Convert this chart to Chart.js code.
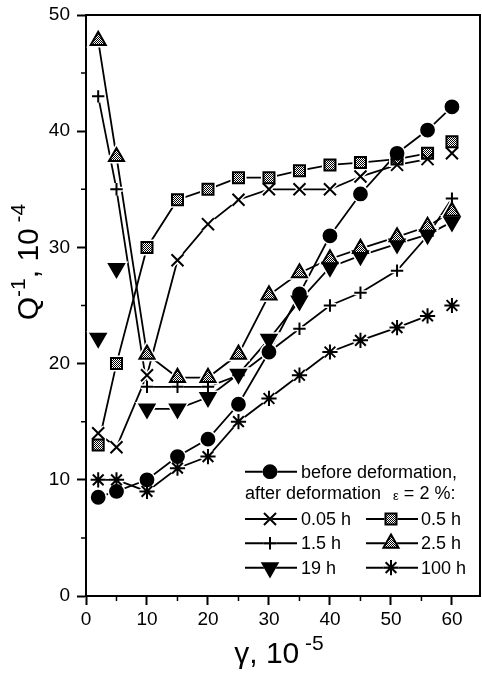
<!DOCTYPE html>
<html><head><meta charset="utf-8">
<script src="https://cdn.jsdelivr.net/npm/chart.js@4.4.0/dist/chart.umd.min.js"></script>
<style>html,body{margin:0;padding:0;background:#fff;overflow:hidden}#wrap{width:482px;height:673px;position:relative}</style>
</head><body><div id="wrap"><canvas id="c" width="482" height="673"></canvas></div>
<script>
// ---- data ----
const gamma   = [2, 5, 10, 15, 20, 25, 30, 35, 40, 45, 51, 56, 60];
const before  = [8.5, 9, 10, 12, 13.5, 16.5, 21, 26, 31, 34.6, 38.1, 40.1, 42.1];
const h005    = [14, 12.8, 19, 28.9, 32, 34.1, 35, 35, 35, 36.1, 37.1, 37.6, 38.1];
const h05     = [13, 20, 30, 34.1, 35, 36, 36, 36.6, 37.1, 37.3, 37.6, 38.1, 39.1];
const h15     = [43, 35, 18, 18, 18, 19, 21, 23, 25, 26.1, 28, 31, 34.2];
const h25     = [47.8, 37.8, 20.8, 18.8, 18.8, 20.8, 25.9, 27.8, 29, 29.9, 30.9, 31.8, 33.1];
const h19     = [22.2, 28.2, 16.1, 16.1, 17.1, 19.1, 22.1, 25.4, 28.3, 29.3, 30.3, 31.1, 32.2];
const h100    = [10, 10, 9, 11, 12, 15, 17, 19, 21, 22, 23.1, 24.1, 25];
const xTickLabels = [0, 10, 20, 30, 40, 50, 60];
const yTickLabels = [0, 10, 20, 30, 40, 50];
const seriesNames = ['before deformation,', '0.05 h', '0.5 h', '1.5 h', '2.5 h', '19 h', '100 h'];
// segments left undrawn in the reference (index of the segment's first point)
const hiddenSegments = [[], [11], [11], [], [], [0, 1], [11]];

const FONT = "'Liberation Sans', Arial, sans-serif";
const canvas = document.getElementById('c');
const ctx0 = canvas.getContext('2d');

function makePattern() {
  const c = document.createElement('canvas'); c.width = 2; c.height = 2;
  const g = c.getContext('2d');
  g.fillStyle = '#fff'; g.fillRect(0, 0, 2, 2);
  g.fillStyle = '#000'; g.fillRect(0, 0, 1, 1); g.fillRect(1, 1, 1, 1);
  return ctx0.createPattern(c, 'repeat');
}
const pat = makePattern();

const marks = [
  { style: 'circle',   r: 6.4, bg: '#000', rot: 0 },
  { style: 'crossRot', r: 8.5, bg: '#000', rot: 0 },
  { style: 'rect',     r: 7.8, bg: pat,    rot: 0 },
  { style: 'cross',    r: 6.2, bg: '#000', rot: 0 },
  { style: 'triangle', r: 8.7, bg: pat,    rot: 0 },
  { style: 'triangle', r: 8.7, bg: '#000', rot: 180 },
  { style: 'star',     r: 7.6, bg: '#000', rot: 0 }
];
const seriesValues = [before, h005, h05, h15, h25, h19, h100];
const pts = vals => gamma.map((g, k) => ({ x: g, y: vals[k] }));

const datasets = [];
seriesValues.forEach((vals, i) => {
  // connecting line
  datasets.push({
    label: seriesNames[i], order: 3,
    data: pts(vals),
    borderColor: '#000', borderWidth: 1.8,
    segment: { borderColor: c => hiddenSegments[i].includes(c.p0DataIndex) ? 'rgba(0,0,0,0)' : undefined },
    pointRadius: 0, tension: 0, fill: false
  });
  // white halo around markers (gap between line and marker)
  datasets.push({
    label: seriesNames[i] + ' halo', order: 2,
    data: pts(vals), showLine: false,
    pointStyle: marks[i].style, pointRadius: marks[i].r, pointRotation: marks[i].rot,
    pointBackgroundColor: '#fff', pointBorderColor: '#fff', pointBorderWidth: 5
  });
  // markers
  datasets.push({
    label: seriesNames[i] + ' marks', order: 1,
    data: pts(vals), showLine: false,
    pointStyle: marks[i].style, pointRadius: marks[i].r, pointRotation: marks[i].rot,
    pointBackgroundColor: marks[i].bg, pointBorderColor: '#000', pointBorderWidth: 2
  });
});

const decor = {
  id: 'decor',
  afterDraw(chart) {
    const { ctx, chartArea: a, scales: { x, y } } = chart;
    ctx.save();
    ctx.strokeStyle = '#000';
    // frame top & right
    ctx.lineWidth = 2;
    ctx.beginPath();
    ctx.moveTo(a.left, a.top); ctx.lineTo(a.right, a.top); ctx.lineTo(a.right, a.bottom);
    ctx.stroke();
    // minor ticks
    ctx.lineWidth = 1.5;
    ctx.beginPath();
    for (let v = 5; v < 65; v += 10) {
      const px = x.getPixelForValue(v);
      ctx.moveTo(px, a.bottom); ctx.lineTo(px, a.bottom + 5);
    }
    for (let v = 5; v < 50; v += 10) {
      const py = y.getPixelForValue(v);
      ctx.moveTo(a.left, py); ctx.lineTo(a.left - 5, py);
    }
    ctx.stroke();

    ctx.fillStyle = '#000';
    // x title: γ, 10^-5
    ctx.textBaseline = 'alphabetic';
    ctx.textAlign = 'left';
    const xParts = [['γ, 10', 30, 0], [' -5', 21, -13]];
    let xw = 0;
    xParts.forEach(p => { ctx.font = `${p[1]}px ${FONT}`; xw += ctx.measureText(p[0]).width; });
    let xx = 279 - xw / 2;
    xParts.forEach(p => { ctx.font = `${p[1]}px ${FONT}`; ctx.fillText(p[0], xx, 663 + p[2]); xx += ctx.measureText(p[0]).width; });

    // y title: Q^-1, 10^-4 rotated
    ctx.save();
    ctx.translate(38, 262);
    ctx.rotate(-Math.PI / 2);
    const parts = [['Q', 30, 0], ['-1', 21, -13], [', 10', 30, 0], [' -4', 21, -13]];
    let tw = 0;
    parts.forEach(p => { ctx.font = `${p[1]}px ${FONT}`; tw += ctx.measureText(p[0]).width; });
    let cx = -tw / 2;
    parts.forEach(p => { ctx.font = `${p[1]}px ${FONT}`; ctx.fillText(p[0], cx, p[2]); cx += ctx.measureText(p[0]).width; });
    ctx.restore();

    // legend
    const rows = [471.7, 493.3, 519, 543.3, 567.7];
    const col1 = { l1: 245, l2: 297, m: 270, t: 301 };
    const col2 = { l1: 366, l2: 418, m: 391, t: 421 };
    const items = [
      [0, col1, rows[0]],
      [1, col1, rows[2]], [2, col2, rows[2]],
      [3, col1, rows[3]], [4, col2, rows[3]],
      [5, col1, rows[4]], [6, col2, rows[4]]
    ];
    ctx.textBaseline = 'middle';
    items.forEach(([i, c, yy]) => {
      ctx.strokeStyle = '#000';
      ctx.lineWidth = 2;
      ctx.beginPath(); ctx.moveTo(c.l1, yy); ctx.lineTo(c.l2, yy); ctx.stroke();
      ctx.fillStyle = '#fff'; ctx.strokeStyle = '#fff'; 
      Chart.helpers.drawPoint(ctx, {
        pointStyle: marks[i].style, radius: marks[i].r, rotation: marks[i].rot, borderWidth: 5
      }, c.m, yy);
      ctx.lineWidth = 2; ctx.strokeStyle = '#000';
      ctx.fillStyle = marks[i].bg;
      Chart.helpers.drawPoint(ctx, {
        pointStyle: marks[i].style, radius: marks[i].r, rotation: marks[i].rot, borderWidth: 2
      }, c.m, yy);
      ctx.fillStyle = '#000';
      ctx.font = `18px ${FONT}`;
      ctx.fillText(seriesNames[i], c.t, yy + 1);
    });
    ctx.font = `18px ${FONT}`;
    let lx = 245;
    ctx.fillText('after deformation', lx, rows[1] + 1);
    lx += ctx.measureText('after deformation').width + 12;
    ctx.font = `13px ${FONT}`;
    ctx.fillText('ε', lx, rows[1] + 3);
    lx += ctx.measureText('ε').width + 5;
    ctx.font = `18px ${FONT}`;
    ctx.fillText('= 2 %:', lx, rows[1] + 1);
    ctx.restore();
  }
};

new Chart(canvas, {
  type: 'line',
  data: { datasets },
  plugins: [decor],
  options: {
    responsive: false,
    animation: false,
    devicePixelRatio: 1,
    layout: { autoPadding: false, padding: { top: 15, right: 2, left: 0, bottom: 0 } },
    plugins: { legend: { display: false }, tooltip: { enabled: false } },
    scales: {
      x: {
        type: 'linear', min: 0, max: 64.6,
        afterFit(s) { s.height = 77; s.paddingLeft = 0; s.paddingRight = 0; },
        ticks: {
          stepSize: 5, includeBounds: false, autoSkip: false, maxRotation: 0,
          callback: v => xTickLabels.includes(v) ? String(v) : '',
          font: { family: FONT, size: 19 }, color: '#000', padding: 3
        },
        grid: {
          drawOnChartArea: false, drawTicks: true, tickLength: 9, tickWidth: 2,
          tickColor: c => (c.tick && xTickLabels.includes(c.tick.value)) ? '#000' : 'rgba(0,0,0,0)'
        },
        border: { display: true, color: '#000', width: 2 }
      },
      y: {
        type: 'linear', min: 0, max: 50,
        afterFit(s) { s.width = 86; s.paddingTop = 0; s.paddingBottom = 0; },
        ticks: {
          stepSize: 5, includeBounds: false, autoSkip: false,
          callback: v => yTickLabels.includes(v) ? String(v) : '',
          font: { family: FONT, size: 19 }, color: '#000', padding: 7
        },
        grid: {
          drawOnChartArea: false, drawTicks: true, tickLength: 9, tickWidth: 2,
          tickColor: c => (c.tick && yTickLabels.includes(c.tick.value)) ? '#000' : 'rgba(0,0,0,0)'
        },
        border: { display: true, color: '#000', width: 2 }
      }
    }
  }
});
</script></body></html>
